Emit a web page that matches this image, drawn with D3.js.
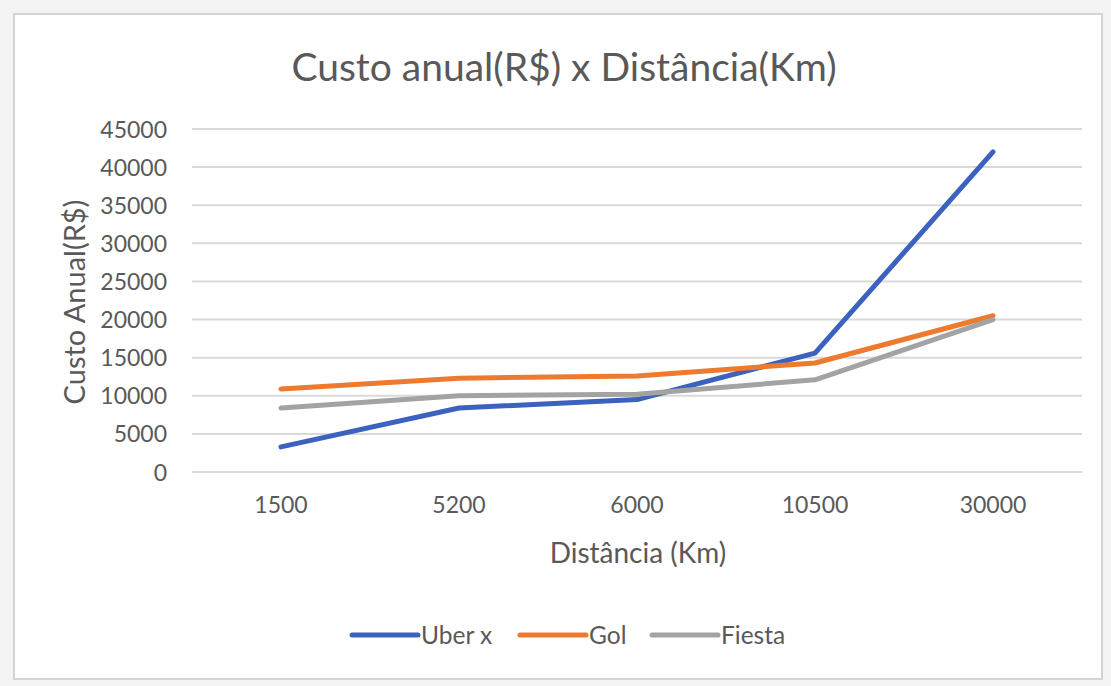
<!DOCTYPE html>
<html><head><meta charset="utf-8">
<script src="https://cdn.jsdelivr.net/npm/d3@7"></script>
<style>
html,body{margin:0;padding:0;background:#fff;}
text{font-family:Lato,"Open Sans",sans-serif;fill:#595959;}
</style></head>
<body><svg id="c" width="1111" height="686"></svg>
<script>
const categories = ["1500","5200","6000","10500","30000"];
const uberX = [3300, 8400, 9500, 15600, 42000];
const gol = [10900, 12300, 12600, 14300, 20500];
const fiesta = [8400, 10000, 10200, 12100, 20000];
const yTicks = [0,5000,10000,15000,20000,25000,30000,35000,40000,45000];
const seriesNames = ["Uber x","Gol","Fiesta"];
const seriesColors = ["#3c62c0","#ed7a2e","#a3a3a3"];
const title = "Custo anual(R$) x Distância(Km)";
const xTitle = "Distância (Km)";
const yTitle = "Custo Anual(R$)";

const series = [uberX, gol, fiesta].map((v,i)=>({name:seriesNames[i], color:seriesColors[i], values:v}));

const svg = d3.select("#c");
svg.append("rect").attr("x",0).attr("y",0).attr("width",1111).attr("height",686).attr("fill","#f4f4f4");
svg.append("rect").attr("x",14).attr("y",14).attr("width",1088).attr("height",665)
  .attr("fill","#fff").attr("stroke","#d4d4d4").attr("stroke-width",2);

const pLeft=192, pRight=1082, pTop=129, pBottom=472;
const x = d3.scaleBand().domain(categories).range([pLeft,pRight]);
const y = d3.scaleLinear().domain([0,45000]).range([pBottom,pTop]);

svg.append("g").selectAll("line").data(yTicks).join("line")
  .attr("x1",pLeft).attr("x2",pRight).attr("y1",d=>y(d)).attr("y2",d=>y(d))
  .attr("stroke","#d9d9d9").attr("stroke-width",2);

const yAxis = d3.axisLeft(y).tickValues(yTicks).tickSize(0).tickPadding(0).tickFormat(d3.format("d"));
const gy = svg.append("g").attr("transform",`translate(167,0)`).call(yAxis);
gy.select(".domain").remove();
gy.selectAll("text").attr("font-size",23).attr("font-family","Lato").attr("fill","#595959").attr("dy","0.35em");

const xAxis = d3.axisBottom(x).tickSize(0).tickPadding(0);
const gx = svg.append("g").attr("transform",`translate(0,${pBottom+25})`).call(xAxis);
gx.select(".domain").remove();
gx.selectAll("text").attr("font-size",23).attr("font-family","Lato").attr("fill","#595959");

const line = d3.line().x((d,i)=>x(categories[i])+x.bandwidth()/2).y(d=>y(d));
svg.append("g").selectAll("path").data(series).join("path")
  .attr("d",d=>line(d.values)).attr("fill","none").attr("stroke",d=>d.color)
  .attr("stroke-width",5).attr("stroke-linejoin","round").attr("stroke-linecap","round");

svg.append("text").attr("x",564).attr("y",81).attr("text-anchor","middle").attr("font-size",39).text(title);
svg.append("text").attr("x",638).attr("y",563).attr("text-anchor","middle").attr("font-size",28).text(xTitle);
svg.append("text").attr("transform","translate(85,302) rotate(-90)").attr("text-anchor","middle").attr("font-size",29).text(yTitle);

const legendX = [352, 520, 652];
const lg = svg.append("g").selectAll("g").data(series).join("g")
  .attr("transform",(d,i)=>`translate(${legendX[i]},635)`);
lg.append("line").attr("x1",0).attr("x2",66).attr("y1",0).attr("y2",0)
  .attr("stroke",d=>d.color).attr("stroke-width",5).attr("stroke-linecap","round");
lg.append("text").attr("x",69).attr("y",0).attr("dy","0.35em").attr("font-size",24.5).text(d=>d.name);
</script></body></html>
